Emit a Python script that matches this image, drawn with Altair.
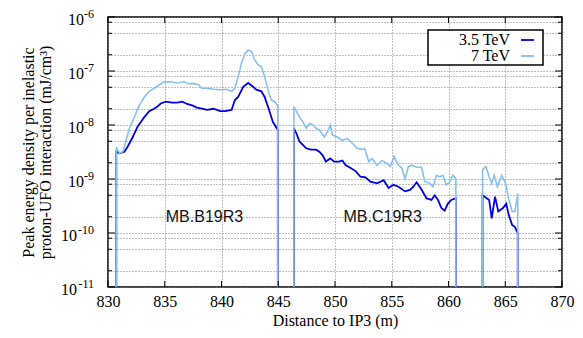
import altair as alt
import pandas as pd

SERIES = ["3.5 TeV", "7 TeV"]
COLORS = ["#0000e6", "#86c2ee"]
FLOOR = 1e-11

# 3.5 TeV, three segments (x in m, peak energy density in mJ/cm^3)
X_35_A = [830.73, 831.02, 831.45, 831.74, 832.18, 832.61, 833.20, 833.63, 834.07, 834.36, 834.65,
          835.08, 835.66, 836.10, 836.54, 836.97, 837.41, 837.84, 838.28, 838.71, 839.30, 839.88,
          840.31, 840.89, 841.18, 841.47, 841.91, 842.35, 842.78, 843.07, 843.51, 843.80, 844.23,
          844.52, 844.76, 844.96]
V_35_A = [3.2e-9, 3.0e-9, 3.2e-9, 4.0e-9, 6.0e-9, 9.3e-9, 1.4e-8, 1.8e-8, 2.0e-8, 2.2e-8, 2.5e-8,
          2.7e-8, 2.6e-8, 2.6e-8, 2.7e-8, 2.45e-8, 2.3e-8, 2.1e-8, 2.0e-8, 1.9e-8, 2.0e-8, 1.8e-8,
          1.8e-8, 1.9e-8, 2.9e-8, 3.3e-8, 5.1e-8, 6.0e-8, 5.1e-8, 4.5e-8, 4.2e-8, 3.3e-8, 1.8e-8,
          1.15e-8, 9.5e-9, 8.1e-9]
X_35_B = [846.38, 846.59, 846.88, 847.17, 847.46, 847.89, 848.33, 848.62, 848.91, 849.20, 849.58,
          849.93, 850.36, 850.65, 850.95, 851.38, 851.82, 852.25, 852.69, 853.12, 853.70, 854.29,
          854.72, 855.16, 855.59, 856.17, 856.61, 856.90, 857.19, 857.63, 858.06, 858.50, 858.79,
          859.08, 859.37, 859.66, 859.95, 860.24, 860.65]
V_35_B = [8.7e-9, 7.1e-9, 4.9e-9, 4.3e-9, 3.7e-9, 3.5e-9, 3.5e-9, 3.2e-9, 2.75e-9, 2.1e-9, 2.4e-9,
          2.1e-9, 2.1e-9, 2.2e-9, 1.8e-9, 1.6e-9, 1.4e-9, 1.1e-9, 1.07e-9, 8.9e-10, 8.3e-10, 9.5e-10,
          6.8e-10, 7.8e-10, 7.2e-10, 5.9e-10, 6.3e-10, 7.2e-10, 8.7e-10, 6.3e-10, 4.4e-10, 4.1e-10, 5.0e-10,
          4.1e-10, 2.9e-10, 2.6e-10, 3.5e-10, 4.1e-10, 4.4e-10]
X_35_C = [863.00, 863.58, 863.81, 864.10, 864.39, 864.80, 865.09, 865.32, 865.61, 865.85, 866.10]
V_35_C = [5.0e-10, 4.1e-10, 1.86e-10, 4.7e-10, 2.5e-10, 2.9e-10, 3.5e-10, 2.1e-10, 1.4e-10, 1.3e-10, 1.0e-10]

# 7 TeV, three segments
X_7_A = [830.73, 831.02, 831.31, 831.60, 831.89, 832.32, 832.76, 833.20, 833.63, 834.07, 834.50,
         834.94, 835.52, 836.10, 836.68, 837.12, 837.55, 837.99, 838.28, 838.71, 839.30, 839.88,
         840.46, 840.89, 841.18, 841.47, 841.76, 842.06, 842.35, 842.64, 842.93, 843.22, 843.51,
         843.80, 844.09, 844.38, 844.67, 844.96]
V_7_A = [3.9e-9, 3.0e-9, 3.2e-9, 5.2e-9, 8.7e-9, 1.4e-8, 2.3e-8, 3.3e-8, 4.2e-8, 4.8e-8, 5.5e-8,
         6.3e-8, 6.3e-8, 6.0e-8, 6.3e-8, 5.8e-8, 5.9e-8, 5.5e-8, 4.8e-8, 4.8e-8, 4.6e-8, 4.5e-8,
         4.6e-8, 4.2e-8, 4.8e-8, 7.9e-8, 1.4e-7, 2.1e-7, 2.45e-7, 2.3e-7, 1.6e-7, 1.3e-7, 1.2e-7,
         7.9e-8, 4.5e-8, 2.9e-8, 2.7e-8, 2.3e-8]
X_7_B = [846.38, 846.59, 846.88, 847.17, 847.46, 847.75, 848.04, 848.33, 848.62, 849.06, 849.35,
         849.58, 849.78, 850.22, 850.65, 851.09, 851.53, 851.96, 852.40, 852.60, 852.98, 853.27,
         853.70, 854.14, 854.58, 854.87, 855.21, 855.59, 855.88, 856.17, 856.46, 856.75, 857.19,
         857.63, 857.92, 858.35, 858.64, 858.93, 859.22, 859.51, 859.80, 860.09, 860.39, 860.65]
V_7_B = [2.2e-8, 1.8e-8, 1.4e-8, 1.15e-8, 8.7e-9, 1.07e-8, 1.0e-8, 8.7e-9, 8.1e-9, 6.0e-9, 7.6e-9,
         1.0e-8, 6.5e-9, 6.0e-9, 5.2e-9, 5.6e-9, 4.6e-9, 3.7e-9, 3.5e-9, 3.7e-9, 2.1e-9, 2.4e-9,
         1.8e-9, 2.2e-9, 1.95e-9, 1.7e-9, 2.6e-9, 1.8e-9, 1.6e-9, 1.0e-9, 1.7e-9, 1.8e-9, 1.65e-9,
         1.65e-9, 8.9e-10, 8.3e-10, 7.2e-10, 1.17e-9, 1.1e-9, 1.17e-9, 7.8e-10, 8.9e-10, 1.17e-9, 1.0e-9]
X_7_C = [863.00, 863.29, 863.58, 863.81, 864.02, 864.31, 864.68, 865.03, 865.32, 865.61, 865.85, 866.10]
V_7_C = [1.48e-9, 1.7e-9, 1.1e-9, 8.3e-10, 1.17e-9, 7.2e-10, 1.17e-9, 8.3e-10, 4.1e-10, 2.5e-10, 2.5e-10, 5.4e-10]

X_TICKS = [830, 835, 840, 845, 850, 855, 860, 865, 870]
Y_MAJOR = [1e-11, 1e-10, 1e-9, 1e-8, 1e-7, 1e-6]
Y_EXP = ["-11", "-10", "-9", "-8", "-7", "-6"]
Y_MINOR = [2e-11, 5e-11, 8e-11, 2e-10, 5e-10, 8e-10, 2e-9, 5e-9, 8e-9,
           2e-8, 5e-8, 8e-8, 2e-7, 5e-7, 8e-7]
Y_GRID = Y_MAJOR + Y_MINOR

ANNOT_TEXT = ["MB.B19R3", "MB.C19R3"]
ANNOT_X = [838.5, 854.2]
ANNOT_Y = [2e-10, 2e-10]

Y_TITLE = ["Peak energy density per inelastic", "proton-UFO interaction (mJ/cm³)"]
X_TITLE = "Distance to IP3 (m)"

SERIF = "Liberation Serif"
SANS = "Liberation Sans"
W, H = 454, 270

# ---- build tables ----
rows = []
for name, segs in [(SERIES[0], [(X_35_A, V_35_A), (X_35_B, V_35_B), (X_35_C, V_35_C)]),
                   (SERIES[1], [(X_7_A, V_7_A), (X_7_B, V_7_B), (X_7_C, V_7_C)])]:
    for si, (xs, vs) in enumerate(segs):
        xs2 = [xs[0]] + list(xs) + [xs[-1]]
        vs2 = [FLOOR] + list(vs) + [FLOOR]
        for k, (x, v) in enumerate(zip(xs2, vs2)):
            rows.append({"series": name, "seg": f"{name}-{si}", "x": x, "v": v, "k": k})
df = pd.DataFrame(rows)

major_df = pd.DataFrame({"v": Y_MAJOR, "e": Y_EXP})
minor_df = pd.DataFrame({"v": Y_MINOR})
xt_df = pd.DataFrame({"x": X_TICKS})
ann_df = pd.DataFrame({"x": ANNOT_X, "v": ANNOT_Y, "label": ANNOT_TEXT})

xscale = alt.Scale(domain=[830, 870], nice=False, zero=False)
yscale = alt.Scale(type="log", domain=[1e-11, 1e-6], nice=False)

xaxis = alt.Axis(values=X_TICKS, grid=True, gridColor="#808080", gridDash=[1, 2], gridWidth=1,
                 ticks=False, domain=False, format="d", labelFlush=False,
                 labelFont=SERIF, labelFontSize=16, labelColor="black", labelPadding=6,
                 title=X_TITLE, titleFont=SERIF, titleFontSize=16, titleFontWeight="normal",
                 titleColor="black", titlePadding=3)
yaxis = alt.Axis(values=Y_GRID, grid=True, gridColor="#808080", gridDash=[1, 2], gridWidth=1,
                 ticks=False, domain=False, labels=False,
                 title=Y_TITLE, titleFont=SERIF, titleFontSize=16, titleFontWeight="normal",
                 titleColor="black", titleAngle=270, titleX=-80, titleY=135,
                 titleAlign="center", titleBaseline="middle", titleLineHeight=17)

X = alt.X("x:Q", scale=xscale, axis=xaxis)
Y = alt.Y("v:Q", scale=yscale, axis=yaxis)

base = alt.Chart(df)
line35 = base.transform_filter(alt.datum.series == SERIES[0]).mark_line(
    color=COLORS[0], strokeWidth=1.8, clip=True).encode(x=X, y=Y, detail="seg:N", order="k:Q")
line7 = base.transform_filter(alt.datum.series == SERIES[1]).mark_line(
    color=COLORS[1], strokeWidth=1.6, clip=True).encode(x=X, y=Y, detail="seg:N", order="k:Q")

tick_major_l = alt.Chart(major_df).mark_rule(color="black", strokeWidth=1).encode(
    y=Y, x=alt.value(0), x2=alt.value(7))
tick_major_r = alt.Chart(major_df).mark_rule(color="black", strokeWidth=1).encode(
    y=Y, x=alt.value(W - 7), x2=alt.value(W))
tick_minor_l = alt.Chart(minor_df).mark_rule(color="black", strokeWidth=1).encode(
    y=Y, x=alt.value(0), x2=alt.value(4))
tick_minor_r = alt.Chart(minor_df).mark_rule(color="black", strokeWidth=1).encode(
    y=Y, x=alt.value(W - 4), x2=alt.value(W))
tick_x_b = alt.Chart(xt_df).mark_rule(color="black", strokeWidth=1).encode(
    x=X, y=alt.value(H - 6), y2=alt.value(H))
tick_x_t = alt.Chart(xt_df).mark_rule(color="black", strokeWidth=1).encode(
    x=X, y=alt.value(0), y2=alt.value(6))

exp_lbl = alt.Chart(major_df).mark_text(align="right", baseline="middle", font=SERIF, fontSize=12,
                                         dx=-14, dy=-3, color="black").encode(
    y=Y, x=alt.value(0), text="e:N")
ten_short = alt.Chart(major_df).transform_filter("length(datum.e) == 2").mark_text(
    align="right", baseline="middle", font=SERIF, fontSize=16, dx=-24, dy=3, color="black").encode(
    y=Y, x=alt.value(0), text=alt.value("10"))
ten_long = alt.Chart(major_df).transform_filter("length(datum.e) == 3").mark_text(
    align="right", baseline="middle", font=SERIF, fontSize=16, dx=-31, dy=3, color="black").encode(
    y=Y, x=alt.value(0), text=alt.value("10"))

ann = alt.Chart(ann_df).mark_text(font=SANS, fontSize=16, color="#111", align="center",
                                  baseline="middle").encode(x=X, y=Y, text="label:N")

one = alt.Data(values=[{"a": 1}])
leg_box = alt.Chart(one).mark_rect(fill="white", stroke="black", strokeWidth=1.5).encode(
    x=alt.value(W - 134), x2=alt.value(W - 19), y=alt.value(13), y2=alt.value(48))
leg_layers = [leg_box]
for i, (name, col) in enumerate(zip(SERIES, COLORS)):
    leg_layers.append(alt.Chart(one).mark_text(align="right", baseline="middle", font=SERIF,
                                               fontSize=16, color="black").encode(
        x=alt.value(W - 52), y=alt.value(23 + 16 * i), text=alt.value(name)))
    leg_layers.append(alt.Chart(one).mark_rule(color=col, strokeWidth=1.8).encode(
        x=alt.value(W - 41), x2=alt.value(W - 28), y=alt.value(23 + 16 * i)))

chart = alt.layer(line35, line7, tick_major_l, tick_major_r, tick_minor_l, tick_minor_r,
                  tick_x_b, tick_x_t, exp_lbl, ten_short, ten_long, ann, *leg_layers).properties(
    width=W, height=H, autosize=alt.AutoSizeParams(type="none"),
    padding={"left": 100, "top": 9, "right": 13, "bottom": 43}
).configure_view(stroke="black", strokeWidth=1.5)

chart.save("out.html", embed_options={"renderer": "svg", "actions": False})
